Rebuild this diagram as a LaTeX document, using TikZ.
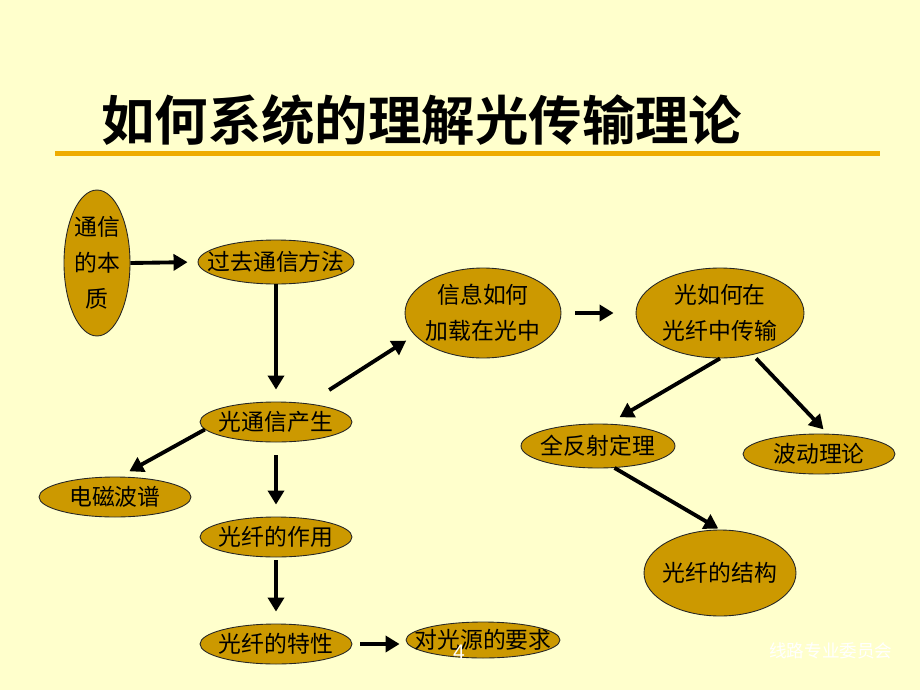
\documentclass[tikz,border=0pt]{standalone}
\usepackage{fontspec}
\setmainfont{Liberation Sans}
\newfontfamily\cjk{Noto Sans CJK SC}[BoldFont={Noto Sans CJK SC Bold}]
\usetikzlibrary{arrows.meta,shapes.geometric}
\definecolor{cpaper}{RGB}{255,255,204}
\definecolor{cgold}{RGB}{204,153,0}
\definecolor{crule}{RGB}{238,172,0}
\tikzset{
  bubble/.style={ellipse, draw=black!85, line width=0.5pt, fill=cgold, inner sep=-3cm,
    font=\cjk\fontsize{13}{20.5}\selectfont, align=center,
    minimum width=3.04cm, minimum height=0.8cm},
  flow/.style={-{Triangle[length=2.8mm,width=3.2mm]}, line width=2.2pt},
}

\begin{document}
\begin{tikzpicture}[x=0.02cm, y=-0.02cm]
    % page
    \fill[cpaper] (0,0) rectangle (920,690);
    \useasboundingbox (0,0) rectangle (920,690);
    % title and rule
    \node[anchor=west, inner sep=0pt, font=\cjk\bfseries\fontsize{30.4}{36}\selectfont] (title) at (101,120) {如何系统的理解光传输理论};
    \draw[crule, line width=0.1cm] (55,153) -- (880,153);
    % left column
    \node[bubble, minimum width=1.32cm, minimum height=2.92cm] (nature) at (97,263) {通信\\的本\\质};
    \node[bubble, minimum width=3.12cm, minimum height=0.88cm] (past) at (276,262) {过去通信方法};
    \node[bubble] (birth) at (276,422) {光通信产生};
    \node[bubble] (spectrum) at (115,497) {电磁波谱};
    \node[bubble] (role) at (276,537) {光纤的作用};
    \node[bubble] (prop) at (276,644) {光纤的特性};
    \node[bubble, minimum width=3.08cm, minimum height=0.72cm] (source) at (483,640) {对光源的要求};
    % right part
    \node[bubble, minimum width=3.12cm, minimum height=1.8cm] (load) at (483,313) {信息如何\\加载在光中};
    \node[bubble, minimum width=3.36cm, minimum height=1.8cm] (guide) at (720,313) {光如何在\\光纤中传输};
    \node[bubble, minimum width=3.08cm, minimum height=0.88cm] (tir) at (598,446) {全反射定理};
    \node[bubble] (wave) at (819,454) {波动理论};
    \node[bubble, minimum height=1.72cm] (struct) at (720,573) {光纤的结构};
    % arrows
    \draw[flow, shorten >=0.2cm] (nature.east) -- (past.west);
    \draw[flow, shorten >=0.24cm] (past.south) -- (birth.north);
    \draw[flow, shorten <=0.5cm, shorten >=0.2cm] (birth.30) -- (load.198);
    \draw[flow, shorten <=0.28cm, shorten >=0.44cm] (load.east) -- (guide.west);
    \draw[flow, shorten >=0.26cm] (guide.south) -- (tir.65);
    \draw[flow, shorten <=0.1cm, shorten >=0.12cm] (guide.-52) -- (wave.67);
    \draw[flow, shorten >=0.04cm] (tir.-53) -- (struct.north);
    \draw[flow, shorten >=0.22cm] (birth.186) -- (spectrum.77);
    \draw[flow, shorten <=0.26cm, shorten >=0.24cm] (birth.south) -- (role.north);
    \draw[flow, shorten <=0.06cm, shorten >=0.24cm] (role.south) -- (prop.north);
    \draw[flow, shorten <=0.16cm, shorten >=0.12cm] (prop.east) -- (prop.east -| source.west);
    % footer
    \node[white, font=\fontsize{12}{14}\selectfont] (pageno) at (459,652) {4};
    \node[white, anchor=west, inner sep=0pt, font=\cjk\fontsize{10}{12}\selectfont] (mark) at (769,651) {线路专业委员会};
\end{tikzpicture}
\end{document}
